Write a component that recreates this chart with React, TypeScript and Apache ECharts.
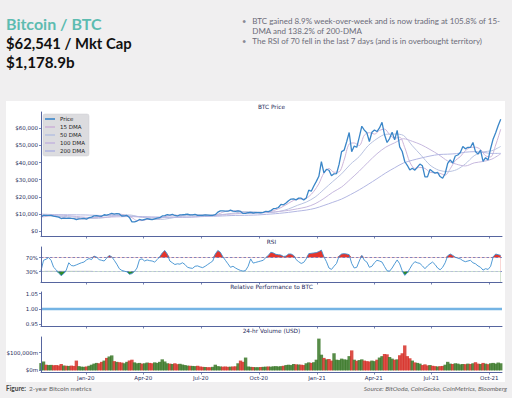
import { useEffect, useRef } from "react";
import * as echarts from "echarts";

// ---------- data ----------
const START_DATE = "2019-10-22";
const AXIS_END_DAY = 730;

const quarterDates = ["2020-01-01", "2020-04-01", "2020-07-01", "2020-10-01", "2021-01-01", "2021-04-01", "2021-07-01", "2021-10-01"];
const quarterLabels = ["Jan-20", "Apr-20", "Jul-20", "Oct-20", "Jan-21", "Apr-21", "Jul-21", "Oct-21"];

const priceTicks = [0, 10000, 20000, 30000, 40000, 50000, 60000];
const rsiTicks = [30, 70];
const relTicks = [0.95, 1.0, 1.05];
const volTicks = [0, 100000];

// BTC price, one value every 4 days from START_DATE
const PRICE_STEP = 4;
const price = [
  8240, 9250, 9150, 9200, 9200, 8720, 8470, 8100, 7300, 7520,
  7420, 7550, 7340, 7250, 6640, 7140, 7250, 7390, 6990, 7760,
  8170, 8820, 8940, 8670, 8600, 9500, 9300, 9800, 10320, 9930,
  10180, 9980, 8780, 8900, 9120, 7940, 5360, 5400, 5830, 6760,
  6430, 6730, 7200, 6880, 6640, 7130, 7480, 7790, 8830, 8980,
  9550, 9270, 9670, 9080, 8790, 9420, 9520, 9660, 9890, 9380,
  9410, 9680, 9160, 9130, 9090, 9430, 9300, 9130, 9160, 9560,
  11000, 11800, 11740, 11680, 11570, 12250, 11680, 11480, 11710, 11420,
  10280, 10340, 10680, 10930, 10530, 10730, 10780, 10670, 10920, 11540,
  11320, 11910, 13030, 13280, 13740, 15580, 15310, 16320, 17680, 18680,
  18730, 18180, 19200, 19190, 18060, 19270, 23860, 23240, 26270, 29000,
  31970, 40580, 34000, 36070, 35500, 32290, 33400, 33540, 38900, 46400,
  47200, 52150, 57540, 46340, 49600, 48900, 54880, 61190, 58910, 57350,
  52300, 57700, 59000, 58090, 60200, 63500, 56200, 51700, 54000, 57750,
  53250, 58800, 49150, 46450, 40600, 38400, 35680, 36690, 35520, 37340,
  39100, 38100, 31680, 31600, 36000, 34700, 33800, 34240, 31800, 30840,
  33580, 39460, 41500, 39700, 43800, 44400, 45900, 49300, 48000, 48900,
  48800, 51700, 46400, 44900, 47300, 40700, 42800, 41500, 48200, 53800,
  57400, 61600, 65200,
];

// 15-day moving average, every 8 days
const DMA15_STEP = 8;
const dma15 = [
  8200, 8500, 9000, 8900, 8150, 7600, 7460, 7200, 7070, 7190,
  7580, 8420, 8760, 9020, 9730, 10060, 9720, 9200, 7830, 6130,
  6100, 6780, 6860, 7030, 7810, 8790, 9370, 9200, 9200, 9620,
  9590, 9410, 9260, 9240, 9250, 9710, 11030, 11700, 11800, 11780,
  11220, 10680, 10620, 10740, 10770, 11110, 11950, 12990, 14480, 16220,
  17850, 18700, 18660, 20100, 23160, 27620, 33890, 36540, 34320, 34530,
  41510, 50820, 51410, 49930, 55970, 57440, 56590, 58750, 59500, 56350,
  54180, 54740, 48750, 40280, 36570, 37160, 36550, 34350, 34020, 33640,
  32620, 36350, 41120, 43450, 46900, 48750, 48950, 47580, 43930, 43300,
  50230, 59500,
];

// 50/100/200-day moving averages, every 14 days
const DMA_STEP = 14;
const dma50 = [
  9150, 8800, 8650, 8400, 8000, 7500, 7350, 7700, 8500, 9200,
  9400, 8400, 7600, 6750, 6950, 7800, 8700, 9200, 9450, 9350,
  9400, 9950, 10600, 11300, 11250, 11000, 10900, 11500, 12900, 15000,
  16900, 19800, 24300, 28900, 33400, 39000, 43500, 49800, 53900, 56500,
  56600, 55800, 49800, 44200, 38500, 35500, 34700, 35800, 39200, 44000,
  46200, 46900, 49400,
];
const dma100 = [
  9900, 9700, 9450, 9000, 8500, 8050, 7850, 7900, 8200, 8340,
  8460, 8230, 8170, 8080, 8010, 8070, 7970, 8060, 8440, 8800,
  9180, 9720, 10080, 10420, 10440, 10620, 10950, 11490, 12050, 12980,
  14010, 15930, 19000, 22660, 25700, 30250, 35000, 40200, 45100, 49000,
  51500, 53900, 52400, 50400, 47600, 44500, 40900, 39000, 38000, 39800,
  40600, 42000, 45100,
];
const dma200 = [
  8900, 9150, 9450, 9500, 9450, 9380, 9220, 9050, 8980, 8950,
  8800, 8500, 8250, 8080, 8080, 8130, 8150, 8270, 8400, 8550,
  8690, 8910, 9120, 9180, 9280, 9560, 9920, 10350, 10900, 11570,
  12230, 13260, 14940, 16770, 18660, 21250, 24080, 27230, 30540, 33940,
  36940, 39740, 41320, 42630, 43800, 44670, 44870, 45210, 46020, 46340,
  45930, 45300, 45350,
];

// 14-day RSI, every 4 days
const RSI_STEP = 4;
const rsi14 = [
  32, 62, 65, 70, 62, 42, 35, 26, 18, 24,
  34, 55, 47, 46, 49, 52, 55, 57, 63, 67,
  64, 74, 71, 64, 62, 60, 68, 76, 72, 62,
  51, 38, 33, 31, 29, 22, 24, 30, 40, 64,
  66, 60, 63, 61, 60, 57, 64, 72, 83, 90,
  80, 60, 55, 50, 52, 51, 55, 50, 42, 40,
  39, 45, 46, 43, 41, 45, 50, 55, 60, 80,
  90, 85, 72, 62, 52, 42, 45, 40, 36, 33,
  31, 33, 45, 66, 54, 56, 58, 60, 62, 70,
  76, 85, 83, 79, 78, 77, 73, 74, 80, 80,
  76, 64, 58, 53, 56, 66, 81, 82, 83, 84,
  87, 91, 72, 58, 40, 36, 45, 53, 74, 80,
  81, 80, 78, 53, 40, 42, 60, 76, 62, 57,
  42, 45, 55, 62, 60, 57, 44, 32, 31, 40,
  52, 63, 52, 32, 19, 26, 38, 50, 58, 55,
  53, 46, 38, 46, 52, 57, 50, 40, 35, 42,
  55, 75, 80, 76, 71, 68, 66, 61, 58, 60,
  62, 55, 52, 46, 42, 34, 38, 36, 45, 72,
  80, 78, 76,
];
const RSI_HIGH = 70;
const RSI_LOW = 30;

// relative performance to BTC
const relDays = [0, 730];
const relValues = [1.0, 1.0];

// 24-hr volume, $m, every 4 days
const VOL_STEP = 4;
const volume = [
  41000, 50000, 32000, 30000, 31000, 29000, 30000, 28000, 36000, 27000,
  26000, 25000, 27000, 25000, 55000, 24000, 21000, 20000, 22000, 26000,
  32000, 38000, 42000, 40000, 48000, 55000, 70000, 78000, 84000, 52000,
  48000, 46000, 44000, 40000, 48000, 56000, 60000, 45000, 40000, 42000,
  38000, 40000, 44000, 42000, 40000, 45000, 42000, 48000, 62000, 50000,
  40000, 38000, 36000, 40000, 35000, 37000, 33000, 30000, 27000, 26000,
  25000, 24000, 26000, 22000, 20000, 19000, 18000, 18000, 20000, 32000,
  24000, 22000, 21000, 22000, 20000, 21000, 22000, 23000, 40000, 55000,
  48000, 72000, 22000, 20000, 19000, 18000, 18000, 19000, 20000, 21000,
  22000, 21000, 23000, 24000, 22000, 24000, 26000, 30000, 32000, 30000,
  36000, 34000, 33000, 32000, 30000, 40000, 45000, 42000, 46000, 60000,
  178000, 88000, 70000, 62000, 64000, 55000, 96000, 60000, 58000, 66000,
  62000, 60000, 80000, 112000, 60000, 54000, 58000, 62000, 55000, 52000,
  50000, 55000, 52000, 60000, 72000, 80000, 92000, 90000, 75000, 66000,
  60000, 62000, 85000, 96000, 140000, 80000, 68000, 55000, 45000, 42000,
  38000, 30000, 34000, 28000, 30000, 26000, 24000, 22000, 24000, 25000,
  32000, 48000, 38000, 36000, 40000, 38000, 34000, 36000, 35000, 38000,
  36000, 40000, 46000, 38000, 36000, 42000, 38000, 35000, 40000, 42000,
  38000, 44000, 40000,
];

// ---------- helpers ----------
const dayOf = (d: string) => Math.round((Date.parse(d) - Date.parse(START_DATE)) / 86400000);
const quarterDays = quarterDates.map(dayOf);
const stepped = (arr: number[], step: number) => arr.map((v, i) => [i * step, v]);

const FONT = "DejaVu Sans";
const AXIS_COLOR = "#56659f";
const LABEL_COLOR = "#1f2d5c";
const GRID_LEFT = 41;
const GRID_WIDTH = 461;

const grids = [
  { top: 112, height: 124 },
  { top: 247, height: 35 },
  { top: 292, height: 34 },
  { top: 337, height: 35 },
];

function xAxisFor(i: number) {
  return {
    type: "value",
    gridIndex: i,
    min: 0,
    max: AXIS_END_DAY,
    z: 10,
    axisLine: { show: true, onZero: false, lineStyle: { color: AXIS_COLOR, width: 1 } },
    axisTick: { show: true, customValues: quarterDays, length: 2.5, lineStyle: { color: AXIS_COLOR, width: 0.8 } },
    axisLabel: {
      show: i === 3,
      customValues: quarterDays,
      fontSize: 5.5,
      fontFamily: FONT,
      color: LABEL_COLOR,
      margin: 3,
      formatter: (v: number) => {
        const k = quarterDays.indexOf(Math.round(v));
        return k >= 0 ? quarterLabels[k] : "";
      },
    },
    splitLine: { show: false },
  };
}

function yAxisFor(i: number, min: number, max: number, ticks: number[], fmt: (v: number) => string) {
  return {
    type: "value",
    gridIndex: i,
    min,
    max,
    z: 10,
    axisLine: { show: true, onZero: false, lineStyle: { color: AXIS_COLOR, width: 1 } },
    axisTick: { show: true, customValues: ticks, length: 2, lineStyle: { color: AXIS_COLOR, width: 0.8 } },
    axisLabel: { customValues: ticks, fontSize: 5.5, fontFamily: FONT, color: LABEL_COLOR, margin: 3, formatter: fmt },
    splitLine: { show: false },
  };
}

function panelTitle(text: string, y: number) {
  return {
    type: "text",
    x: GRID_LEFT + GRID_WIDTH / 2,
    y,
    style: {
      text,
      fontSize: 5.8,
      fontFamily: FONT,
      fill: LABEL_COLOR,
      textAlign: "center",
      textVerticalAlign: "middle",
      align: "center",
      verticalAlign: "middle",
    },
  };
}

function headerText(text: string, x: number, y: number, size: number, weight: string, color: string, extra: any = {}) {
  return {
    type: "text",
    x,
    y,
    style: {
      text,
      fontSize: size,
      fontWeight: weight,
      fontFamily: "Lato",
      fill: color,
      textVerticalAlign: "middle",
      verticalAlign: "middle",
      ...extra,
    },
  };
}

function areaLine(name: string, data: number[][], color: string, z: number) {
  return {
    name,
    type: "line",
    xAxisIndex: 1,
    yAxisIndex: 1,
    data,
    symbol: "none",
    lineStyle: { width: 0, opacity: 0 },
    areaStyle: { color, opacity: 1, origin: "start" },
    z,
  };
}

function buildOption() {
  const priceData = stepped(price, PRICE_STEP);
  const rsiData = stepped(rsi14, RSI_STEP);
  const up = (i: number) => i === 0 || price[i] >= price[i - 1];

  const dmaLine = (name: string, arr: number[], step: number, color: string) => ({
    name,
    type: "line",
    xAxisIndex: 0,
    yAxisIndex: 0,
    data: stepped(arr, step),
    symbol: "none",
    smooth: 0.3,
    color,
    lineStyle: { color, width: 1 },
    z: 3,
  });

  const legendText = { fontSize: 5.5, lineHeight: 5.5, color: "#222", fontFamily: FONT };

  return {
    animation: false,
    backgroundColor: "#f0eff0",
    textStyle: { fontFamily: FONT },
    grid: grids.map((g) => ({ left: GRID_LEFT, width: GRID_WIDTH, top: g.top, height: g.height })),
    xAxis: [0, 1, 2, 3].map(xAxisFor),
    yAxis: [
      yAxisFor(0, -2900, 69500, priceTicks, (v) => "$" + Math.round(v).toLocaleString("en-US")),
      yAxisFor(1, 0, 100, rsiTicks, (v) => Math.round(v) + "%"),
      yAxisFor(2, 0.945, 1.055, relTicks, (v) => v.toFixed(2)),
      yAxisFor(3, -8900, 187000, volTicks, (v) => "$" + Math.round(v).toLocaleString("en-US") + "m"),
    ],
    legend: [
      {
        left: 43,
        top: 114,
        orient: "vertical",
        data: ["Price", "15 DMA", "50 DMA", "100 DMA", "200 DMA"],
        icon: "rect",
        itemWidth: 10,
        itemHeight: 1.6,
        itemGap: 2,
        padding: [2, 4, 2, 2],
        backgroundColor: "rgba(216,216,220,0.9)",
        borderColor: "#cdcdd2",
        borderWidth: 0.5,
        borderRadius: 2,
        textStyle: legendText,
      },
      {
        left: 43,
        top: 271,
        orient: "horizontal",
        data: ["14-day RSI"],
        icon: "rect",
        itemWidth: 10,
        itemHeight: 1.6,
        padding: [1, 4, 1, 2],
        backgroundColor: "rgba(216,216,220,0.9)",
        borderColor: "#cdcdd2",
        borderWidth: 0.5,
        borderRadius: 2,
        textStyle: legendText,
      },
    ],
    graphic: [
      { type: "rect", z: -10, shape: { x: 6, y: 101, width: 499, height: 281 }, style: { fill: "#ffffff" } },
      headerText("Bitcoin / BTC", 6, 23.5, 16, "bold", "#5dbcb1"),
      headerText("$62,541 / Mkt Cap", 6, 43, 14.8, "bold", "#111111"),
      headerText("$1,178.9b", 6, 62, 15.2, "bold", "#111111"),
      headerText("•", 242, 21, 7.5, "normal", "#8a8a95"),
      headerText("BTC gained 8.9% week-over-week and is now trading at 105.8% of 15-", 252.3, 21, 8, "normal", "#6b6b78"),
      headerText("DMA and 138.2% of 200-DMA", 252.3, 30.5, 8, "normal", "#6b6b78"),
      headerText("•", 242, 41, 7.5, "normal", "#8a8a95"),
      headerText("The RSI of 70 fell in the last 7 days (and is in overbought territory)", 252.3, 41, 8, "normal", "#6b6b78"),
      headerText("Figure:", 6, 388, 6.5, "bold", "#444444"),
      headerText("2-year Bitcoin metrics", 29, 388, 6.5, "normal", "#666666"),
      headerText("Source: BitOoda, CoinGecko, CoinMetrics, Bloomberg", 507, 388, 6.5, "normal", "#666666", {
        fontStyle: "italic",
        textAlign: "right",
        align: "right",
      }),
      panelTitle("BTC Price", 107.3),
      panelTitle("RSI", 241.5),
      panelTitle("Relative Performance to BTC", 286.5),
      panelTitle("24-hr Volume (USD)", 331.3),
    ],
    series: [
      dmaLine("15 DMA", dma15, DMA15_STEP, "#cdb4d8"),
      dmaLine("50 DMA", dma50, DMA_STEP, "#b9c3e0"),
      dmaLine("100 DMA", dma100, DMA_STEP, "#c6b8de"),
      dmaLine("200 DMA", dma200, DMA_STEP, "#b3b7e2"),
      {
        name: "Price",
        type: "line",
        xAxisIndex: 0,
        yAxisIndex: 0,
        data: priceData,
        symbol: "none",
        color: "#3a86c8",
        lineStyle: { color: "#3a86c8", width: 1.3 },
        z: 5,
      },
      // RSI overbought: red area under max(rsi, 70), masked in white below 70
      areaLine("rsiHighRed", rsiData.map(([d, v]) => [d, Math.max(v, RSI_HIGH)]), "#e5352c", 2),
      areaLine("rsiHighMask", rsiData.map(([d]) => [d, RSI_HIGH]), "#ffffff", 3),
      // RSI oversold: green up to 30, masked in white below the line
      areaLine("rsiLowGreen", rsiData.map(([d]) => [d, RSI_LOW]), "#2f8a2a", 4),
      areaLine("rsiLowMask", rsiData.map(([d, v]) => [d, Math.min(v, RSI_LOW)]), "#ffffff", 5),
      {
        name: "14-day RSI",
        type: "line",
        xAxisIndex: 1,
        yAxisIndex: 1,
        data: rsiData,
        symbol: "none",
        color: "#3d8ed0",
        lineStyle: { color: "#3d8ed0", width: 0.9 },
        z: 7,
        markLine: {
          silent: true,
          symbol: "none",
          label: { show: false },
          lineStyle: { type: [2.5, 2], color: "#6672b8", width: 0.8 },
          data: [{ yAxis: RSI_HIGH }, { yAxis: RSI_LOW }],
        },
      },
      {
        name: "Relative",
        type: "line",
        xAxisIndex: 2,
        yAxisIndex: 2,
        data: relDays.map((d, i) => [d, relValues[i]]),
        symbol: "none",
        color: "#74b4e4",
        lineStyle: { color: "#74b4e4", width: 2.5 },
      },
      {
        name: "Volume",
        type: "bar",
        xAxisIndex: 3,
        yAxisIndex: 3,
        data: stepped(volume, VOL_STEP),
        barWidth: 3.4,
        itemStyle: {
          color: (p: any) => (up(p.dataIndex) ? "rgba(58,120,40,0.85)" : "rgba(214,48,40,0.85)"),
        },
      },
    ],
  };
}

export default function App() {
  const ref = useRef<HTMLDivElement>(null);
  useEffect(() => {
    if (!ref.current) return;
    const chart = echarts.init(ref.current, null, { renderer: "svg" });
    chart.setOption(buildOption() as any);
    return () => chart.dispose();
  }, []);
  return <div ref={ref} style={{ position: "fixed", left: 0, top: 0, width: 512, height: 398 }} />;
}
